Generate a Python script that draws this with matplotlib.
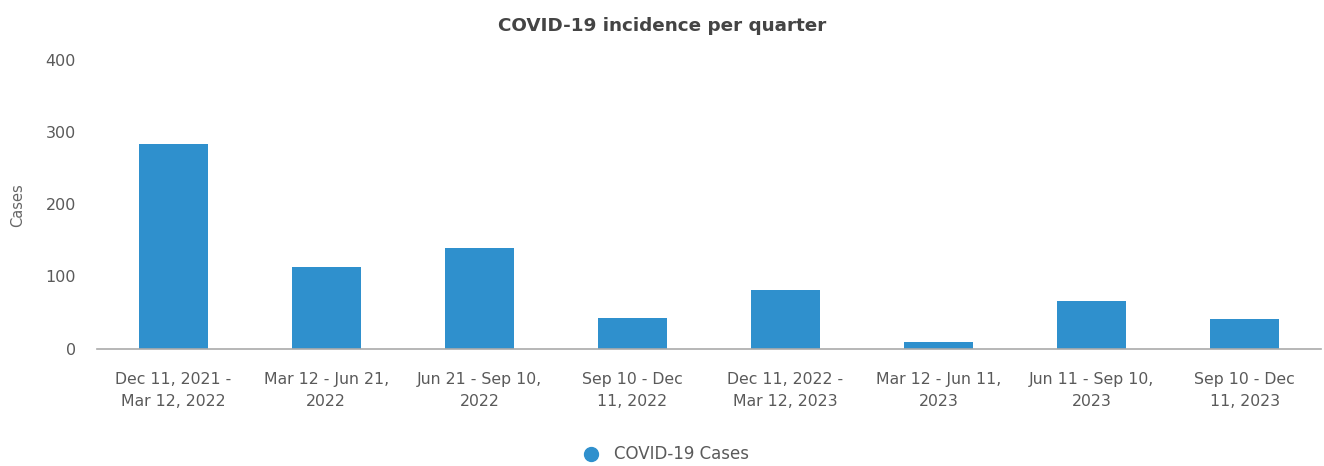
import matplotlib
matplotlib.use("Agg")
import matplotlib.pyplot as plt
from matplotlib.lines import Line2D

categories = ["Dec 11, 2021 -\nMar 12, 2022", "Mar 12 - Jun 21,\n2022", "Jun 21 - Sep 10,\n2022",
              "Sep 10 - Dec\n11, 2022", "Dec 11, 2022 -\nMar 12, 2023", "Mar 12 - Jun 11,\n2023",
              "Jun 11 - Sep 10,\n2023", "Sep 10 - Dec\n11, 2023"]
cases = [284, 113, 140, 42, 81, 9, 66, 41]
yticks = [0, 100, 200, 300, 400]

plt.rcParams['font.family'] = ['DejaVu Sans']
color = "#2f90cd"

fig = plt.figure(figsize=(13.24, 4.66), dpi=100)
ax = fig.add_axes([0.073, 0.252, 0.925, 0.619])
x = list(range(len(categories)))
ax.bar(x, cases, width=0.45, color=color)
ax.set_xlim(-0.5, len(categories) - 0.5)
ax.set_ylim(0, 400)
ax.set_yticks(yticks)
ax.set_yticklabels([str(v) for v in yticks])
ax.set_xticks(x)
ax.set_xticklabels(categories, linespacing=1.6)
for s in ['top', 'right', 'left']:
    ax.spines[s].set_visible(False)
ax.spines['bottom'].set_color('#aaaaaa')
ax.spines['bottom'].set_linewidth(1.2)
ax.tick_params(axis='y', length=0, pad=15, labelsize=11.5, labelcolor='#5a5a5a')
ax.tick_params(axis='x', length=0, pad=17, labelsize=11.3, labelcolor='#5a5a5a')
fig.text(18 / 1324, 1 - 205 / 466, "Cases", rotation=90, ha='center', va='center',
         fontsize=10.5, color='#666666')
fig.text(0.5, 0.945, "COVID-19 incidence per quarter", ha='center', va='center',
         fontsize=13.2, fontweight='bold', color='#444444')
handle = Line2D([], [], marker='o', linestyle='none', markersize=10, color=color)
fig.legend([handle], ["COVID-19 Cases"], loc='center', bbox_to_anchor=(0.5, 0.025),
           frameon=False, fontsize=12, labelcolor='#5a5a5a', handletextpad=0.4)
fig.savefig("out.png", dpi=100)
